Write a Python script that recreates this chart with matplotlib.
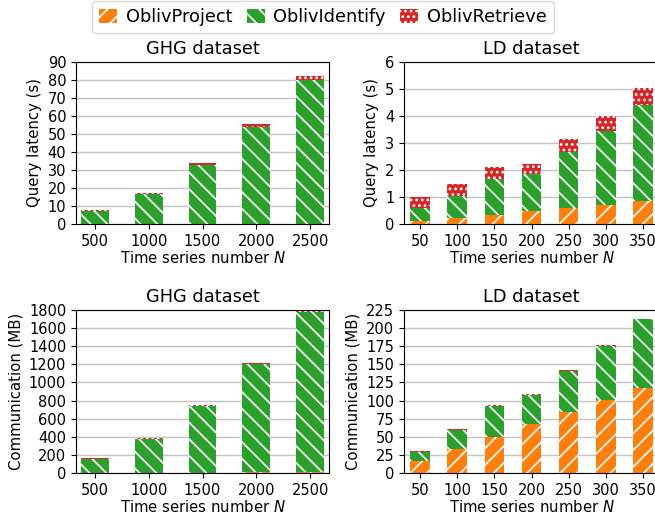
import numpy as np
import matplotlib.pyplot as plt
from matplotlib.patches import Patch

plt.rcParams['hatch.linewidth'] = 1.2

colors = ['#ff7f0e', '#2ca02c', '#d62728']
hatches = ['//', '\\\\', '...']
stages = ['OblivProject', 'OblivIdentify', 'OblivRetrieve']

ghg_n = ['500', '1000', '1500', '2000', '2500']
ld_n = ['50', '100', '150', '200', '250', '300', '350']

# query latency (s), one list per stage
ghg_lat_project = [0.05, 0.05, 0.05, 0.1, 0.1]
ghg_lat_identify = [7.3, 16.5, 32.9, 53.9, 79.9]
ghg_lat_retrieve = [0.7, 0.7, 0.9, 1.5, 2.1]

ld_lat_project = [0.12, 0.24, 0.35, 0.50, 0.61, 0.72, 0.87]
ld_lat_identify = [0.49, 0.78, 1.31, 1.34, 2.07, 2.73, 3.52]
ld_lat_retrieve = [0.40, 0.47, 0.45, 0.38, 0.47, 0.55, 0.64]

# communication (MB)
ghg_com_project = [1, 1, 2, 12, 15]
ghg_com_identify = [151, 375, 739, 1194, 1759]
ghg_com_retrieve = [10, 11, 8, 11, 11]

ld_com_project = [16.5, 33, 50, 67.5, 84, 101, 117.5]
ld_com_identify = [12.5, 26.5, 42.5, 40, 56.5, 74, 94.5]
ld_com_retrieve = [1, 1, 1, 1, 1, 1, 1.2]

TICK, LABEL, TITLE = 10.5, 10.7, 12.8

fig = plt.figure(figsize=(6.55, 5.2), dpi=100)
W, H = 655, 520


def place(x0, y0, x1, y1):
    return fig.add_axes([x0 / W, 1 - y1 / H, (x1 - x0) / W, (y1 - y0) / H])


def stacked(ax, labels, parts, pad):
    x = np.arange(len(labels))
    bottom = np.zeros(len(labels))
    for vals, c, h in zip(parts, colors, hatches):
        ax.bar(x, vals, 0.52, bottom=bottom, color=c, hatch=h,
               edgecolor='white', linewidth=0)
        bottom += np.array(vals)
    ax.set_xticks(x)
    ax.set_xticklabels(labels, fontsize=TICK)
    ax.set_xlim(-pad, len(labels) - 1 + pad)
    ax.set_axisbelow(True)
    ax.yaxis.grid(True, color='#c4c4c4', linewidth=1.0)
    ax.tick_params(axis='y', labelsize=TICK)
    ax.set_xlabel('Time series number $N$', fontsize=LABEL, labelpad=1)


ax1 = place(76, 62, 329, 224)
stacked(ax1, ghg_n, [ghg_lat_project, ghg_lat_identify, ghg_lat_retrieve], 0.35)
ax1.set_ylim(0, 90)
ax1.set_yticks(range(0, 91, 10))
ax1.set_ylabel('Query latency (s)', fontsize=LABEL)
ax1.set_title('GHG dataset', fontsize=TITLE)

ax2 = place(404, 62, 659, 224)
stacked(ax2, ld_n, [ld_lat_project, ld_lat_identify, ld_lat_retrieve], 0.43)
ax2.set_ylim(0, 6)
ax2.set_yticks(range(0, 7))
ax2.set_ylabel('Query latency (s)', fontsize=LABEL)
ax2.set_title('LD dataset', fontsize=TITLE)

ax3 = place(76, 310, 329, 473)
stacked(ax3, ghg_n, [ghg_com_project, ghg_com_identify, ghg_com_retrieve], 0.35)
ax3.set_ylim(0, 1800)
ax3.set_yticks(range(0, 1801, 200))
ax3.set_ylabel('Communication (MB)', fontsize=LABEL)
ax3.set_title('GHG dataset', fontsize=TITLE)

ax4 = place(404, 310, 659, 473)
stacked(ax4, ld_n, [ld_com_project, ld_com_identify, ld_com_retrieve], 0.43)
ax4.set_ylim(0, 225)
ax4.set_yticks(range(0, 226, 25))
ax4.set_ylabel('Communication (MB)', fontsize=LABEL)
ax4.set_title('LD dataset', fontsize=TITLE)

handles = [Patch(facecolor=c, hatch=h, edgecolor='white', linewidth=0)
           for c, h in zip(colors, hatches)]
fig.legend(handles, stages, loc='upper center', bbox_to_anchor=(323 / W, 1.005),
           ncol=3, fontsize=TITLE, handlelength=1.0, handleheight=0.9,
           handletextpad=0.5, columnspacing=0.8, borderaxespad=0.2)

fig.savefig('out.png', dpi=100)
